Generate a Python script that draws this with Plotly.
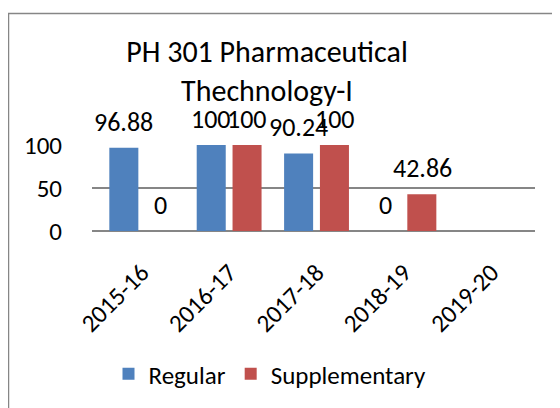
import plotly.graph_objects as go

categories = ["2015-16", "2016-17", "2017-18", "2018-19", "2019-20"]
regular = [96.88, 100, 90.24, 0, None]
supplementary = [0, 100, 100, 42.86, None]
series_names = ["Regular", "Supplementary"]
y_ticks = [0, 50, 100]

FONT = "Carlito, Calibri, Lato, sans-serif"
colors = ["#4F81BD", "#C0504D"]

fig = go.Figure()
for name, vals, col in zip(series_names, [regular, supplementary], colors):
    fig.add_trace(go.Bar(x=categories, y=vals, name=name, marker_color=col,
                         marker_line_width=0))

# data labels
offsets = [-18.25, 18.25]
for vals, dx in zip([regular, supplementary], offsets):
    for c, v in zip(categories, vals):
        if v is None:
            continue
        fig.add_annotation(x=c, y=v, xref="x", yref="y", text=f"{v:g}",
                           showarrow=False, xshift=dx, yshift=26,
                           yanchor="middle", xanchor="center",
                           font=dict(family=FONT, size=26, color="black"))

# page body has an 8px margin, so figure coords = screen coords - 8
OFF = 8
W, H = 560, 408
L, R, T, B = 92 - OFF, W - (535 - OFF), 145 - OFF, H - (231 - OFF)
pw, ph = W - L - R, H - T - B

def px_x(p):
    return (p - OFF - L) / pw

def px_y(p):
    return (H - B - (p - OFF)) / ph

fig.add_shape(type="rect", xref="paper", yref="paper",
              x0=px_x(8.5), x1=px_x(600), y0=px_y(450), y1=px_y(13.5),
              line=dict(color="#868686", width=1.5), fillcolor="rgba(0,0,0,0)",
              layer="below")

fig.update_layout(
    width=W, height=H,
    margin=dict(l=L, r=R, t=T, b=B, autoexpand=False),
    paper_bgcolor="white", plot_bgcolor="white",
    font=dict(family=FONT, size=25, color="black"),
    title=dict(text="PH 301 Pharmaceutical<br>Thechnology-I",
               x=(267 - OFF) / W, xref="container", xanchor="center",
               y=1 - (62 - OFF) / H, yref="container", yanchor="top",
               font=dict(family=FONT, size=30, color="black")),
    barmode="group", bargap=0.18, bargroupgap=0.19,
    showlegend=True,
    legend=dict(orientation="h", x=px_x(270), y=px_y(374),
                xanchor="center", yanchor="middle",
                font=dict(family=FONT, size=25, color="black"),
                itemwidth=30, traceorder="normal"),
    xaxis=dict(tickangle=-45, showgrid=False, showline=False, automargin=False,
               ticks="outside", ticklen=16, tickcolor="rgba(0,0,0,0)",
               tickfont=dict(family=FONT, size=25, color="black")),
    yaxis=dict(range=[0, 100], tickvals=y_ticks, showgrid=True, automargin=False,
               gridcolor="#868686", gridwidth=1.5, zeroline=True,
               zerolinecolor="#868686", zerolinewidth=1.5, showline=False,
               ticks="outside", ticklen=24, tickcolor="rgba(0,0,0,0)",
               tickfont=dict(family=FONT, size=25, color="black")),
)

fig.write_html("out.html")
